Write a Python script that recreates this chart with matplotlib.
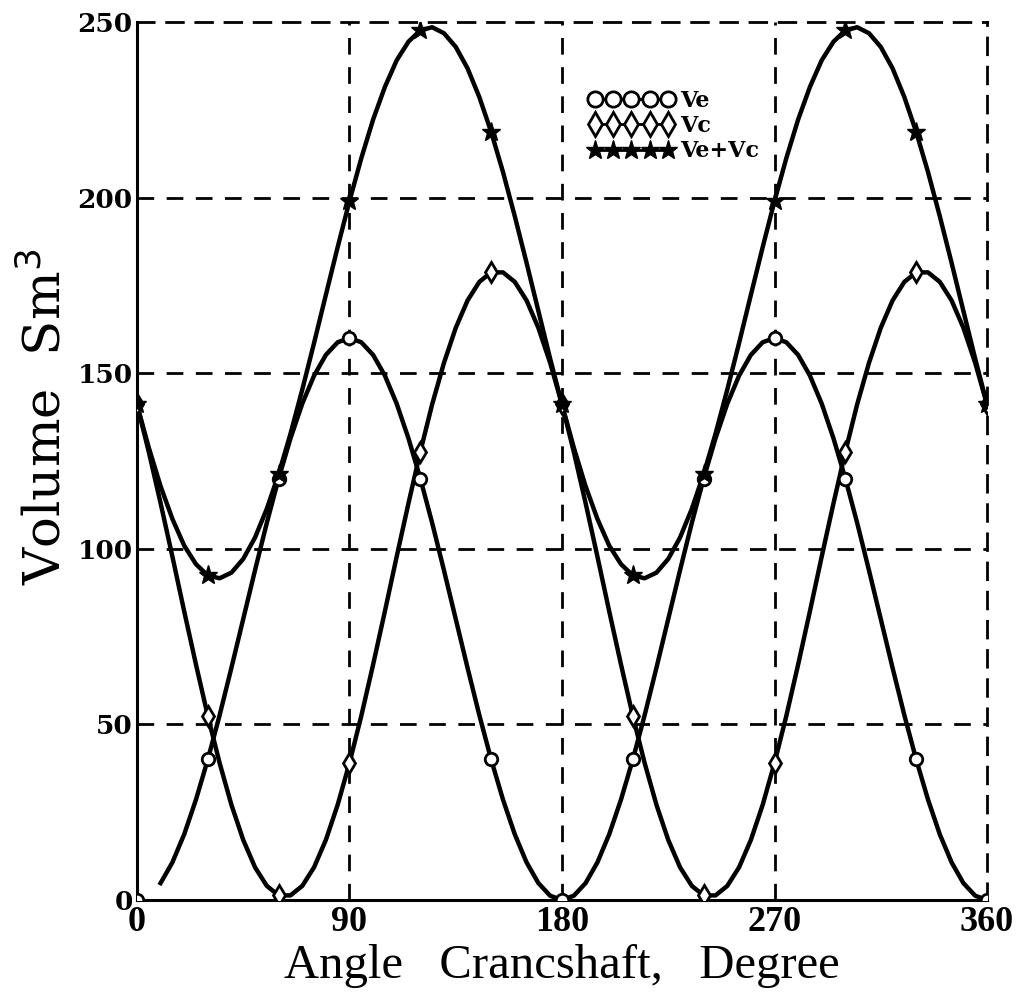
import numpy as np
import matplotlib
matplotlib.use("Agg")
import matplotlib.pyplot as plt
from matplotlib.lines import Line2D

# crank angle, 5 degree steps over one revolution
angle = list(range(0, 361, 5))

# one half-turn of each volume curve (0..180 deg), the second half repeats it
ve_half = [0, 1.2, 4.8, 10.7, 18.7, 28.6, 40, 52.6, 66.1, 80, 93.9, 107.4, 120,
           131.4, 141.3, 149.3, 155.2, 158.8, 160, 158.8, 155.2, 149.3, 141.3,
           131.4, 120, 107.4, 93.9, 80, 66.1, 52.6, 40, 28.6, 18.7, 10.7, 4.8,
           1.2, 0]
vc_half = [141.1, 127.6, 113.0, 97.8, 82.2, 67.0, 52.4, 39.0, 27.1, 17.1, 9.3,
           4.0, 1.3, 1.3, 4.0, 9.3, 17.1, 27.1, 39.0, 52.4, 67.0, 82.2, 97.8,
           113.0, 127.6, 141.1, 152.9, 162.9, 170.7, 176.0, 178.7, 178.7, 176.0,
           170.7, 162.9, 152.9, 141.1]
vsum_half = [141.1, 128.8, 117.8, 108.5, 100.9, 95.6, 92.4, 91.6, 93.2, 97.1,
             103.2, 111.4, 121.3, 132.7, 145.3, 158.6, 172.3, 185.9, 199.0,
             211.2, 222.2, 231.5, 239.1, 244.4, 247.6, 248.5, 246.8, 242.9,
             236.8, 228.6, 218.7, 207.3, 194.7, 181.4, 167.7, 154.1, 141.1]

ve = ve_half + ve_half[1:]
vc = vc_half + vc_half[1:]
vsum = vsum_half + vsum_half[1:]

x_ticks = [0, 90, 180, 270, 360]
y_ticks = [0, 50, 100, 150, 200, 250]

fig = plt.figure(figsize=(10.26, 9.94), dpi=100)
ax = fig.add_axes([0.1335, 0.0946, 0.8285, 0.8833])

dash = (0, (6, 4.5))
for xv in x_ticks[1:-1]:
    ax.axvline(xv, color="black", lw=2, linestyle=dash, zorder=1)
for yv in y_ticks[1:-1]:
    ax.axhline(yv, color="black", lw=2, linestyle=dash, zorder=1)

a = np.array(angle)
ve_a, vc_a, vs_a = np.array(ve), np.array(vc), np.array(vsum)
mk = slice(None, None, 6)

# Ve curve (drawn from 10 deg on) with open circles every 30 deg
ax.plot(a[2:], ve_a[2:], color="black", lw=3.2, zorder=3)
ax.plot(a[mk], ve_a[mk], ls="none", marker="o", ms=9, mfc="white",
        mec="black", mew=2, zorder=4)
# Vc curve with open diamonds
ax.plot(a, vc_a, color="black", lw=3.2, zorder=3)
ax.plot(a[mk], vc_a[mk], ls="none", marker="d", ms=10, mfc="white",
        mec="black", mew=2, zorder=4)
# Ve+Vc with filled stars
ax.plot(a, vs_a, color="black", lw=3.2, zorder=3)
ax.plot(a[mk], vs_a[mk], ls="none", marker="*", ms=14, mfc="black",
        mec="black", zorder=4)

ax.set_xlim(0, 360)
ax.set_ylim(0, 250)
ax.set_xticks(x_ticks)
ax.set_yticks(y_ticks)
ax.tick_params(length=0)
ax.tick_params(axis="x", pad=4)
ax.tick_params(axis="y", pad=3)
for lab in ax.get_xticklabels():
    lab.set_fontfamily("Liberation Serif")
    lab.set_fontweight("bold")
    lab.set_fontsize(26)
for lab in ax.get_yticklabels():
    lab.set_fontfamily("DejaVu Serif")
    lab.set_fontweight("bold")
    lab.set_fontsize(19)

for side in ("left", "bottom"):
    ax.spines[side].set_linewidth(2.2)
for side in ("top", "right"):
    ax.spines[side].set_linewidth(2)
    ax.spines[side].set_linestyle(dash)

ax.set_xlabel("Angle   Crancshaft,   Degree", fontfamily="Liberation Serif",
              fontsize=35, labelpad=4)
ax.set_ylabel("Volume  Sm$^3$", fontfamily="DejaVu Serif", fontsize=37)
ax.yaxis.set_label_coords(-0.077, 0.55)

handles = [
    Line2D([], [], color="black", lw=2, marker="o", ms=11, mfc="white", mew=2),
    Line2D([], [], color="black", lw=2, marker="d", ms=12, mfc="white", mew=2),
    Line2D([], [], color="black", lw=2, marker="*", ms=14, mfc="black"),
]
leg = ax.legend(handles, ["Ve", "Vc", "Ve+Vc"], numpoints=5, handlelength=3.9,
                frameon=False, loc="upper left", bbox_to_anchor=(0.52, 0.933),
                prop={"family": "DejaVu Serif", "weight": "bold", "size": 16},
                handletextpad=0.25, labelspacing=0.15, borderaxespad=0)

fig.savefig("out.png", dpi=100)
